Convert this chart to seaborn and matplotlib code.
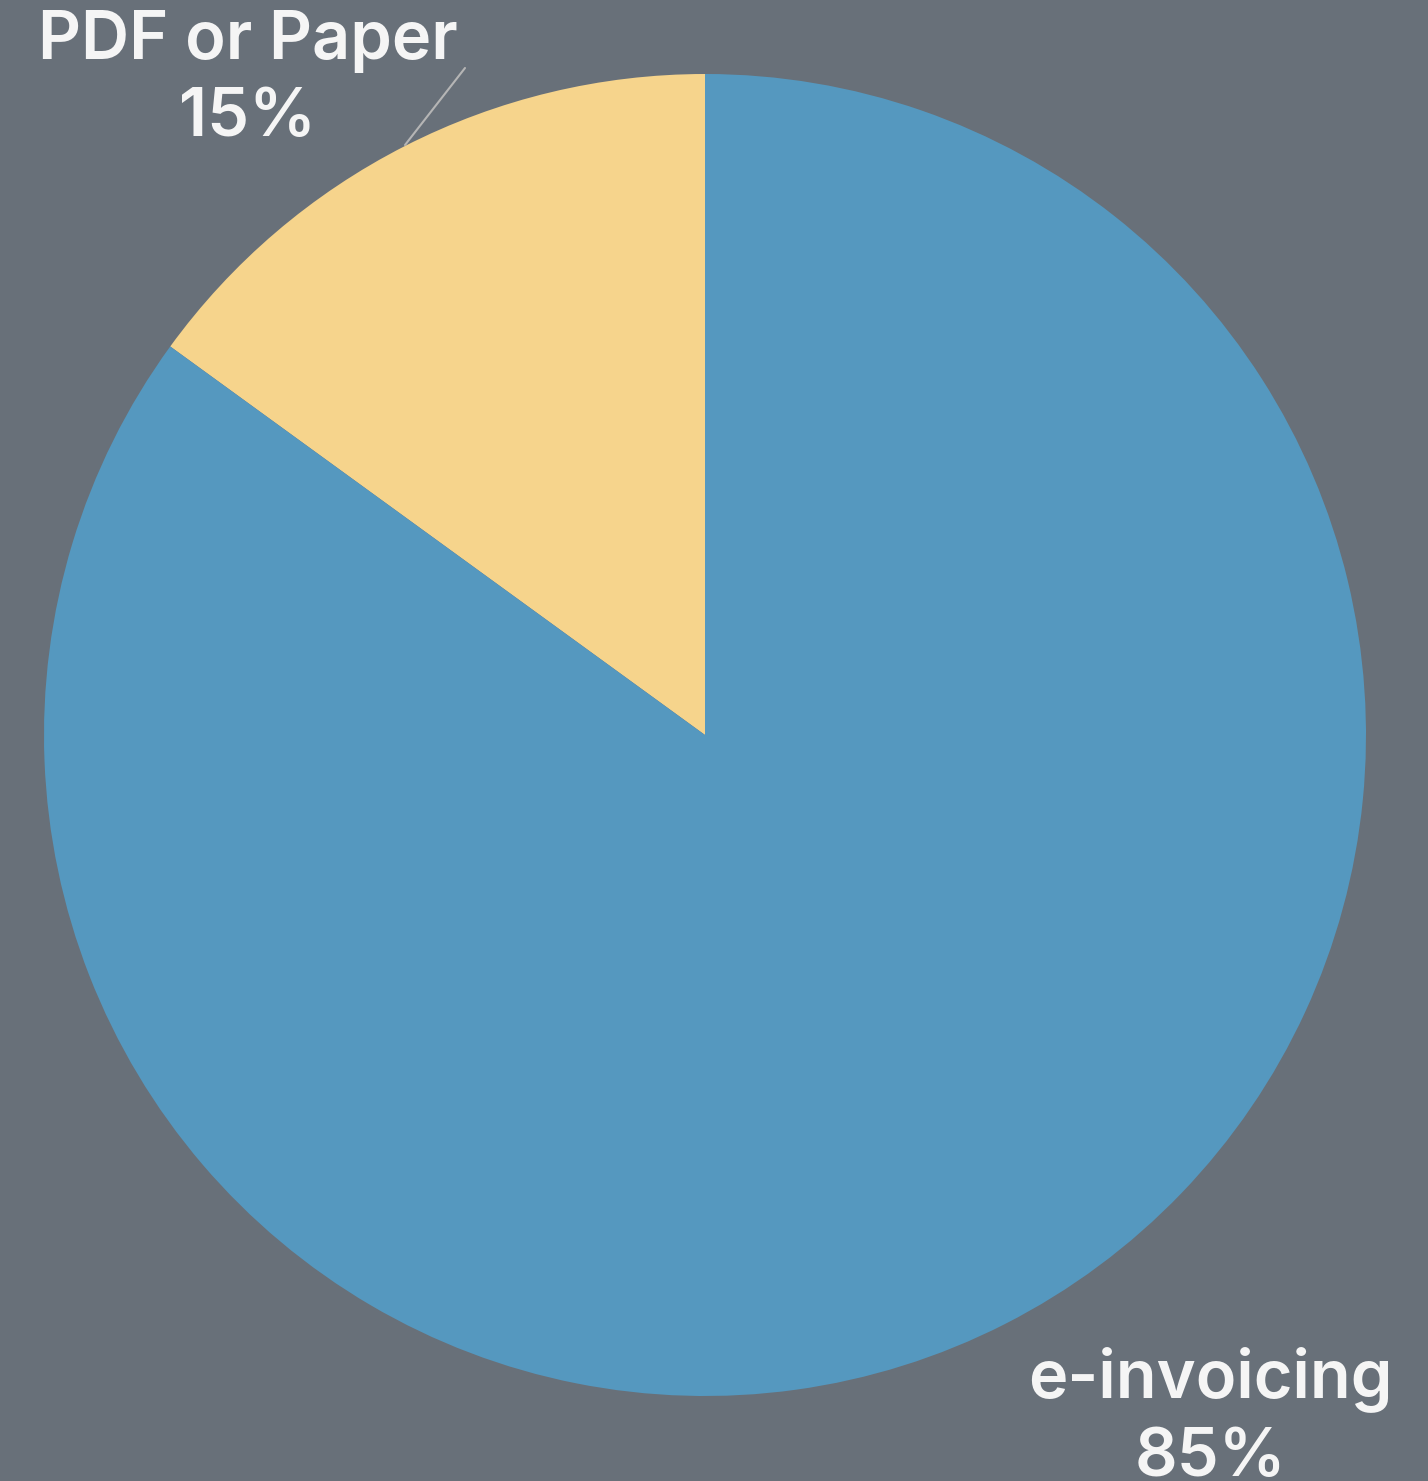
import matplotlib
matplotlib.use("Agg")
import matplotlib.pyplot as plt
import seaborn as sns

# share of invoices by format
categories = ["PDF or Paper", "e-invoicing"]
shares = [15, 85]
colors = ["#F6D48C", "#5598BF"]

sns.set_style("white")
plt.rcParams['font.family'] = ['Inter', 'DejaVu Sans']

bg = "#687079"
fig = plt.figure(figsize=(14.28, 14.81), dpi=100, facecolor=bg)
ax = fig.add_axes([0, 0, 1, 1])
ax.set_facecolor(bg)

cx, cy, r = 705, -735, 661
wedges, _ = ax.pie(shares, colors=colors, startangle=90, counterclock=True,
                   center=(cx, cy), radius=r, frame=True,
                   wedgeprops=dict(linewidth=0))
ax.set_xlim(0, 1428)
ax.set_ylim(-1481, 0)
ax.axis("off")

# labels
txt = dict(color="#F5F5F5", fontsize=48, fontweight="semibold", ha="center",
           va="center", linespacing=1.3)
ax.text(248, -80, f"{categories[0]}\n{shares[0]}%", **txt)
ax.text(1210, -1418, f"{categories[1]}\n{shares[1]}%", **txt)

# leader line for the small slice
ax.plot([405, 465], [-145, -68], color="#B5B5B5", lw=1.5)

fig.savefig("out.png", dpi=100, facecolor=bg)
